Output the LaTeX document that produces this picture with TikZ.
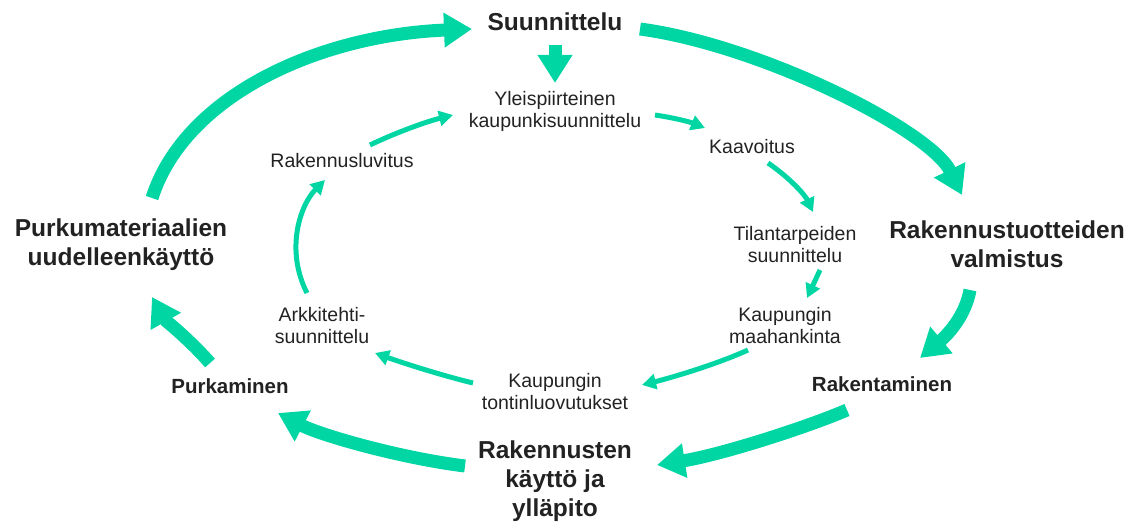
\documentclass[tikz,border=0pt]{standalone}
\usepackage{fontspec}
\setmainfont{Liberation Sans}
\usetikzlibrary{arrows.meta,calc}
\definecolor{mint}{RGB}{0,214,163}
\definecolor{ink}{RGB}{34,34,34}
\begin{document}
\begin{tikzpicture}[x=1pt,y=-1pt,
  bigtxt/.style={font=\fontsize{24.5}{29}\selectfont\bfseries, text=ink, align=center, inner sep=0pt},
  midtxt/.style={font=\fontsize{20.5}{24}\selectfont\bfseries, text=ink, align=center, inner sep=0pt},
  smalltxt/.style={font=\fontsize{19.5}{22}\selectfont, text=ink, align=center, inner sep=0pt},
  bigarrow/.style={draw=mint, line width=13pt, -{Triangle[length=28pt,width=33pt]}},
  thinarrow/.style={draw=mint, line width=5pt, -{Triangle[length=14pt,width=15pt]}}]
\useasboundingbox (0,0) rectangle (1139,529);
% outer cycle
\node[bigtxt] (suun) at (555,22) {Suunnittelu};
\node[bigtxt] (rtv) at (1007,244) {Rakennustuotteiden\\valmistus};
\node[midtxt] (rak) at (882,384) {Rakentaminen};
\node[bigtxt] (kay) at (555,481) {Rakennusten\\käyttö ja\\ylläpito};
\node[midtxt] (purk) at (230,386) {Purkaminen};
\node[bigtxt] (pmu) at (121,245) {Purkumateriaalien\\uudelleenkäyttö};
% inner cycle
\node[smalltxt] (yleis) at (555,111) {Yleispiirteinen\\kaupunkisuunnittelu};
\node[smalltxt] (kaav) at (752,147) {Kaavoitus};
\node[smalltxt] (tila) at (795,245) {Tilantarpeiden\\suunnittelu};
\node[smalltxt] (maah) at (785,326) {Kaupungin\\maahankinta};
\node[smalltxt] (tont) at (555,392) {Kaupungin\\tontinluovutukset};
\node[smalltxt] (arkk) at (322,326) {Arkkitehti-\\suunnittelu};
\node[smalltxt] (rlup) at (342,161) {Rakennusluvitus};
% outer arrows
\draw[bigarrow] ($(pmu)+(31,-47)$) .. controls (185,95) and (320,35) .. ($(suun)+(-83,7)$);
\draw[bigarrow] ($(suun)+(85,7)$) .. controls (760,45) and (930,130) .. ($(rtv)+(-45,-49)$);
\draw[bigarrow] ($(rtv)+(-37,46)$) .. controls (965,318) and (945,337) .. ($(rak)+(38,-26)$);
\draw[bigarrow] ($(rak)+(-35,26)$) .. controls (805,428) and (720,455) .. ($(kay)+(102,-16)$);
\draw[bigarrow] ($(kay)+(-90,-15)$) .. controls (400,458) and (320,435) .. ($(purk)+(48,27)$);
\draw[bigarrow] ($(purk)+(-20,-23)$) .. controls (190,340) and (165,320) .. ($(pmu)+(31,52)$);
\draw[bigarrow] ($(suun)+(0,23)$) -- ($(yleis)+(0,-28)$);
% inner arrows
\draw[thinarrow] ($(yleis)+(100,4)$) .. controls (675,118) and (690,122) .. ($(kaav)+(-47,-19)$);
\draw[thinarrow] ($(kaav)+(16,16)$) .. controls (790,178) and (805,195) .. ($(tila)+(18,-33)$);
\draw[thinarrow] ($(tila)+(25,25)$) -- ($(maah)+(22,-28)$);
\draw[thinarrow] ($(maah)+(-37,24)$) .. controls (715,365) and (670,378) .. ($(tont)+(87,-7)$);
\draw[thinarrow] ($(tont)+(-82,-9)$) .. controls (440,375) and (400,362) .. ($(arkk)+(53,27)$);
\draw[thinarrow] ($(arkk)+(-15,-33)$) .. controls (285,250) and (300,205) .. ($(rlup)+(-17,19)$);
\draw[thinarrow] ($(rlup)+(28,-16)$) .. controls (395,133) and (425,122) .. ($(yleis)+(-102,4)$);
\end{tikzpicture}
\end{document}
